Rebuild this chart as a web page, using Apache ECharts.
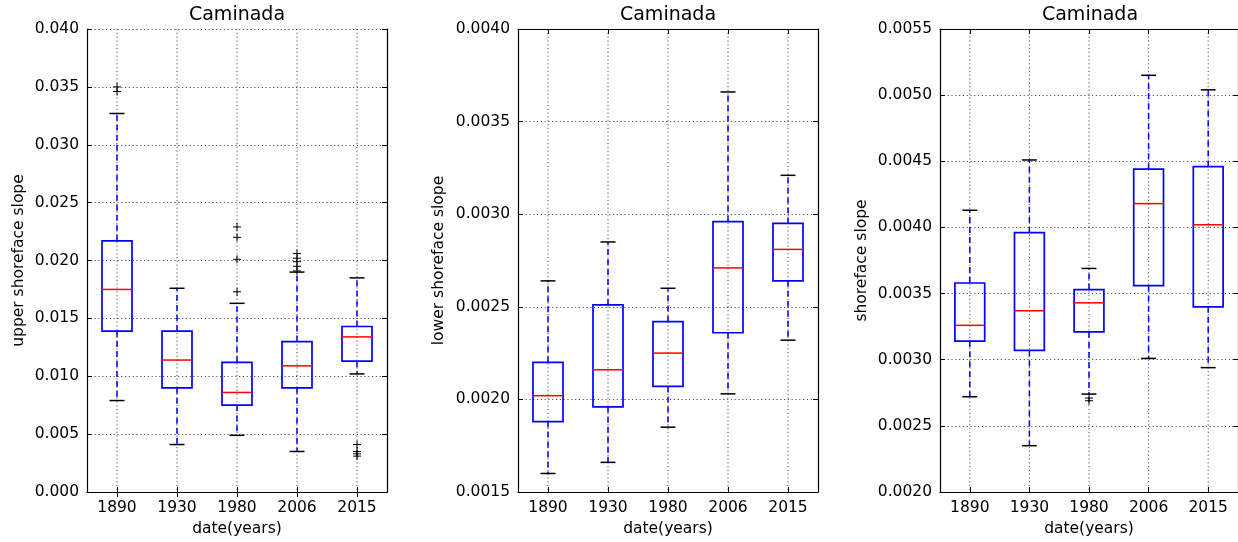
<!DOCTYPE html>
<html>
<head>
<meta charset="utf-8">
<script src="https://cdn.jsdelivr.net/npm/echarts@6/dist/echarts.min.js"></script>
<style>
html,body{margin:0;padding:0;background:#fff;}
#chart{width:1238px;height:542px;}
</style>
</head>
<body>
<div id="chart"></div>
<script>
// ---- data ----
const categories = ['1890', '1930', '1980', '2006', '2015'];

// [lower whisker, Q1, median, Q3, upper whisker]
const upperStats = [
  [0.0079, 0.0139, 0.0175, 0.0217, 0.0327],
  [0.0041, 0.0090, 0.0114, 0.0139, 0.0176],
  [0.0049, 0.0075, 0.0086, 0.0112, 0.0163],
  [0.0035, 0.0090, 0.0109, 0.0130, 0.0190],
  [0.0102, 0.0113, 0.0134, 0.0143, 0.0185]
];
const upperOutliers = [
  ['1890', 0.0350], ['1890', 0.0346],
  ['1980', 0.0229], ['1980', 0.0220], ['1980', 0.0201], ['1980', 0.0173],
  ['2006', 0.0206], ['2006', 0.0202], ['2006', 0.0199], ['2006', 0.0195], ['2006', 0.0191],
  ['2015', 0.0041], ['2015', 0.0035], ['2015', 0.0033], ['2015', 0.0031]
];

const lowerStats = [
  [0.00160, 0.00188, 0.00202, 0.00220, 0.00264],
  [0.00166, 0.00196, 0.00216, 0.00251, 0.00285],
  [0.00185, 0.00207, 0.00225, 0.00242, 0.00260],
  [0.00203, 0.00236, 0.00271, 0.00296, 0.00366],
  [0.00232, 0.00264, 0.00281, 0.00295, 0.00321]
];
const lowerOutliers = [];

const shorefaceStats = [
  [0.00272, 0.00314, 0.00326, 0.00358, 0.00413],
  [0.00235, 0.00307, 0.00337, 0.00396, 0.00451],
  [0.00274, 0.00321, 0.00343, 0.00353, 0.00369],
  [0.00301, 0.00356, 0.00418, 0.00444, 0.00515],
  [0.00294, 0.00340, 0.00402, 0.00446, 0.00504]
];
const shorefaceOutliers = [['1980', 0.00271], ['1980', 0.00269]];

const panelTitles = ['Caminada', 'Caminada', 'Caminada'];
const yNames = ['upper shoreface slope', 'lower shoreface slope', 'shoreface slope'];
const xName = 'date(years)';
const yRanges = [[0, 0.040, 0.005, 3], [0.0015, 0.0040, 0.0005, 4], [0.0020, 0.0055, 0.0005, 4]];

// ---- chart ----
const FONT = 'DejaVu Sans';
const TICK_FS = 15.5;
const grids = [
  { left: 87, top: 29, width: 300, height: 463 },
  { left: 518, top: 29, width: 300, height: 463 },
  { left: 940, top: 29, width: 300, height: 463 }
];
const nameGaps = [60, 71, 70];

const GRID_LINE = { color: '#000', width: 0.8, type: [1.2, 2.6], opacity: 0.85 };

function renderBox(params, api) {
  const x = api.value(0);
  const lo = api.coord([x, api.value(1)]);
  const q1 = api.coord([x, api.value(2)]);
  const md = api.coord([x, api.value(3)]);
  const q3 = api.coord([x, api.value(4)]);
  const hi = api.coord([x, api.value(5)]);
  const band = api.size([1, 0])[0];
  const bw = band * 0.5;
  const cw = band * 0.25;
  const cx = lo[0];
  const cs = params.coordSys;
  const blue = '#0000ff';
  return {
    type: 'group',
    children: [
      { type: 'line', shape: { x1: cx, y1: cs.y, x2: cx, y2: cs.y + cs.height },
        style: { stroke: '#000', lineWidth: 0.8, lineDash: [1.2, 2.6], opacity: 0.85 } },
      { type: 'line', shape: { x1: cx, y1: q1[1], x2: cx, y2: lo[1] },
        style: { stroke: blue, lineWidth: 1.5, lineDash: [6, 4] } },
      { type: 'line', shape: { x1: cx, y1: q3[1], x2: cx, y2: hi[1] },
        style: { stroke: blue, lineWidth: 1.5, lineDash: [6, 4] } },
      { type: 'line', shape: { x1: cx - cw / 2, y1: lo[1], x2: cx + cw / 2, y2: lo[1] },
        style: { stroke: '#000', lineWidth: 1.5 } },
      { type: 'line', shape: { x1: cx - cw / 2, y1: hi[1], x2: cx + cw / 2, y2: hi[1] },
        style: { stroke: '#000', lineWidth: 1.5 } },
      { type: 'rect', shape: { x: cx - bw / 2, y: q3[1], width: bw, height: q1[1] - q3[1] },
        style: { stroke: blue, fill: 'none', lineWidth: 1.7 } },
      { type: 'line', shape: { x1: cx - bw / 2, y1: md[1], x2: cx + bw / 2, y2: md[1] },
        style: { stroke: '#ff0000', lineWidth: 1.5 } }
    ]
  };
}

function renderFlier(params, api) {
  const p = api.coord([api.value(0), api.value(1)]);
  const s = 4;
  return {
    type: 'group',
    children: [
      { type: 'line', shape: { x1: p[0] - s, y1: p[1], x2: p[0] + s, y2: p[1] }, style: { stroke: '#000', lineWidth: 1 } },
      { type: 'line', shape: { x1: p[0], y1: p[1] - s, x2: p[0], y2: p[1] + s }, style: { stroke: '#000', lineWidth: 1 } }
    ]
  };
}

const statsList = [upperStats, lowerStats, shorefaceStats];
const outlierList = [upperOutliers, lowerOutliers, shorefaceOutliers];

const title = [], grid = [], xAxis = [], yAxis = [], series = [];
for (let i = 0; i < 3; i++) {
  const g = grids[i];
  grid.push(Object.assign({ containLabel: false }, g));
  title.push({
    text: panelTitles[i], left: g.left + g.width / 2, top: 6, textAlign: 'center', padding: 0,
    textStyle: { fontFamily: FONT, fontSize: 19, fontWeight: 'normal', color: '#000' }
  });
  const [ymin, ymax, yint, dec] = yRanges[i];
  // bottom x
  xAxis.push({
    type: 'category', data: categories, gridIndex: i, position: 'bottom',
    name: xName, nameLocation: 'middle', nameGap: 26,
    nameTextStyle: { fontFamily: FONT, fontSize: 15.5, color: '#000' },
    axisLine: { show: true, lineStyle: { color: '#000', width: 1.2 } },
    axisTick: { show: true, inside: true, alignWithLabel: true, length: 5, lineStyle: { color: '#000' } },
    axisLabel: { fontFamily: FONT, fontSize: TICK_FS, color: '#000', margin: 8 },
    splitLine: { show: false }
  });
  // top x (mirror)
  xAxis.push({
    type: 'category', data: categories, gridIndex: i, position: 'top',
    axisLine: { show: true, lineStyle: { color: '#000', width: 1.2 } },
    axisTick: { show: true, inside: true, alignWithLabel: true, length: 5, lineStyle: { color: '#000' } },
    axisLabel: { show: false }, splitLine: { show: false }
  });
  // left y
  yAxis.push({
    type: 'value', gridIndex: i, position: 'left', min: ymin, max: ymax, interval: yint,
    name: yNames[i], nameLocation: 'middle', nameGap: nameGaps[i], nameRotate: 90,
    nameTextStyle: { fontFamily: FONT, fontSize: 15.5, color: '#000' },
    axisLine: { show: true, lineStyle: { color: '#000', width: 1.2 } },
    axisTick: { show: true, inside: true, length: 5, lineStyle: { color: '#000' } },
    axisLabel: { fontFamily: FONT, fontSize: TICK_FS, color: '#000', margin: 8,
      formatter: v => v.toFixed(dec) },
    splitLine: { show: true, lineStyle: GRID_LINE }
  });
  // right y (mirror)
  yAxis.push({
    type: 'value', gridIndex: i, position: 'right', min: ymin, max: ymax, interval: yint,
    axisLine: { show: true, lineStyle: { color: '#000', width: 1.2 } },
    axisTick: { show: true, inside: true, length: 5, lineStyle: { color: '#000' } },
    axisLabel: { show: false }, splitLine: { show: false }
  });
  series.push({
    type: 'custom', xAxisIndex: 2 * i, yAxisIndex: 2 * i,
    renderItem: renderBox, silent: true, clip: false,
    encode: { x: 0, y: [1, 2, 3, 4, 5] },
    data: categories.map((c, k) => [k].concat(statsList[i][k]))
  });
  series.push({
    type: 'custom', xAxisIndex: 2 * i, yAxisIndex: 2 * i,
    renderItem: renderFlier, silent: true,
    encode: { x: 0, y: 1 },
    data: outlierList[i].map(o => [categories.indexOf(o[0]), o[1]])
  });
}

const chart = echarts.init(document.getElementById('chart'), null, { renderer: 'canvas' });
chart.setOption({ animation: false, backgroundColor: '#fff', title, grid, xAxis, yAxis, series });
</script>
</body>
</html>
